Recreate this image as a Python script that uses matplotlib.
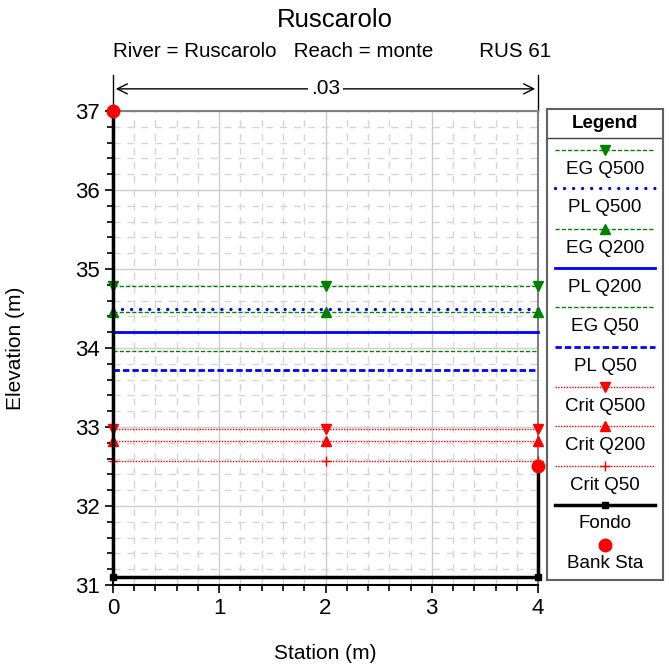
import matplotlib.pyplot as plt
from matplotlib.ticker import MultipleLocator

plt.rcParams['font.family'] = ['Liberation Sans', 'DejaVu Sans']

# cross section data
stations = [0, 2, 4]
eg_q500 = 34.79
pl_q500 = 34.49
eg_q200 = 34.46
pl_q200 = 34.20
eg_q50 = 33.96
pl_q50 = 33.72
crit_q500 = 32.98
crit_q200 = 32.82
crit_q50 = 32.57
fondo_x = [0, 0, 4, 4]
fondo_y = [37.0, 31.1, 31.1, 32.5]
bank_x = [0, 4]
bank_y = [37.0, 32.5]
n_value = '.03'

fig = plt.figure(figsize=(6.69, 6.65), dpi=100)
ax = fig.add_axes([0.1689, 0.1203, 0.6353, 0.7128])

green = '#008000'
blue = '#0000ff'
red = '#ff0000'

styles = [
    ('EG Q500', eg_q500, dict(color=green, ls=(0, (3, 1.5)), lw=1, marker='v', ms=7)),
    ('PL Q500', pl_q500, dict(color=blue, ls=(0, (0.01, 2.7)), lw=2.4, dash_capstyle='round')),
    ('EG Q200', eg_q200, dict(color=green, ls=(0, (3, 1.5)), lw=1, marker='^', ms=7)),
    ('PL Q200', pl_q200, dict(color=blue, ls='-', lw=2)),
    ('EG Q50', eg_q50, dict(color=green, ls=(0, (3, 1.5)), lw=1)),
    ('PL Q50', pl_q50, dict(color=blue, ls=(0, (2.3, 1.1)), lw=2)),
    ('Crit Q500', crit_q500, dict(color=red, ls=(0, (1, 1)), lw=1, marker='v', ms=7)),
    ('Crit Q200', crit_q200, dict(color=red, ls=(0, (1, 1)), lw=1, marker='^', ms=7)),
    ('Crit Q50', crit_q50, dict(color=red, ls=(0, (1, 1)), lw=1, marker='+', ms=7)),
]

for name, val, st in styles:
    ax.plot(stations, [val] * len(stations), **st, clip_on=False, zorder=3)

ax.plot(fondo_x, fondo_y, color='black', lw=2.5, marker='s', ms=4, clip_on=False, zorder=4)
ax.plot(bank_x, bank_y, 'o', color=red, ms=9, clip_on=False, zorder=5)

ax.set_xlim(0, 4)
ax.set_ylim(31, 37)
ax.xaxis.set_major_locator(MultipleLocator(1))
ax.xaxis.set_minor_locator(MultipleLocator(0.2))
ax.yaxis.set_major_locator(MultipleLocator(1))
ax.yaxis.set_minor_locator(MultipleLocator(0.2))
ax.grid(which='major', color='#cccccc', lw=1, ls='-')
ax.grid(which='minor', color='#d6d6d6', lw=1, ls=(0, (5, 5)))
ax.set_axisbelow(True)
ax.tick_params(which='major', length=6, width=1.2, labelsize=16)
ax.tick_params(which='minor', length=4, width=1.2)
for s in ['top', 'right']:
    ax.spines[s].set_color('#808080')
    ax.spines[s].set_linewidth(1.5)
for s in ['left', 'bottom']:
    ax.spines[s].set_linewidth(1.5)

ax.set_xlabel('Station (m)', fontsize=15, labelpad=18)
ax.set_ylabel('Elevation (m)', fontsize=15)
ax.yaxis.set_label_coords(-0.207, 0.5)

# Manning n annotation
for xv in [0, 4]:
    ax.plot([xv, xv], [37.0, 37.46], color='black', lw=1, clip_on=False)
ax.annotate('', xy=(0, 37.28), xytext=(4, 37.28), annotation_clip=False,
            arrowprops=dict(arrowstyle='<->', color='black', lw=1, mutation_scale=18))
ax.text(2, 37.28, n_value, ha='center', va='center', fontsize=15,
        bbox=dict(facecolor='white', edgecolor='none', pad=2), clip_on=False)

fig.text(0.5, 0.970, 'Ruscarolo', ha='center', va='center', fontsize=18.5)
fig.text(0.496, 0.923, 'River = Ruscarolo   Reach = monte        RUS 61',
         ha='center', va='center', fontsize=14.8)

# legend box
lg = fig.add_axes([0.8176, 0.1278, 0.1734, 0.7083])
lg.set_xlim(0, 116)
lg.set_ylim(471, 0)
lg.set_xticks([])
lg.set_yticks([])
for s in lg.spines.values():
    s.set_color('#606060')
    s.set_linewidth(1.5)
lg.text(58, 19, 'Legend', ha='center', va='baseline', fontsize=13.5, fontweight='bold')
lg.plot([0, 116], [29, 29], color='#404040', lw=1)

sample_y = [41, 79, 120, 159, 198, 238, 278, 317, 357, 396, 436]
for i, (name, val, st) in enumerate(styles):
    yy = sample_y[i]
    st2 = {k: v for k, v in st.items() if k not in ('marker', 'ms')}
    lg.plot([8, 108], [yy, yy], **st2)
    if 'marker' in st:
        lg.plot([58], [yy], ls='none', marker=st['marker'], ms=st['ms'], color=st['color'])
    lg.text(58, yy + 24, name, ha='center', va='baseline', fontsize=13.5)
lg.plot([8, 108], [sample_y[9]] * 2, color='black', lw=2.5)
lg.plot([58], [sample_y[9]], 's', color='black', ms=5)
lg.text(58, sample_y[9] + 23, 'Fondo', ha='center', va='baseline', fontsize=13.5)
lg.plot([58], [sample_y[10]], 'o', color=red, ms=9)
lg.text(58, sample_y[10] + 23, 'Bank Sta', ha='center', va='baseline', fontsize=13.5)

fig.savefig('out.png', dpi=100)
